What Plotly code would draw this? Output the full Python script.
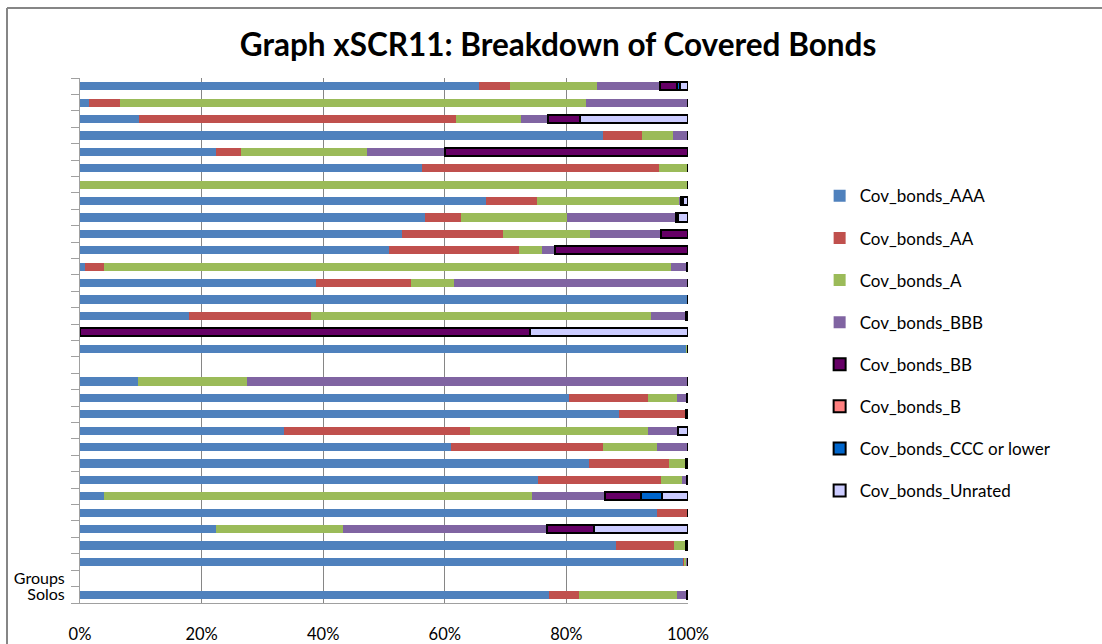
import plotly.graph_objects as go

# Rows listed from top to bottom of the chart
row_ids = [f"r{i:02d}" for i in range(1, 33)]
row_labels = [""] * 30 + ["Groups", "Solos"]

x_tickvals = [0, 20, 40, 60, 80, 100]
x_ticktext = ["0%", "20%", "40%", "60%", "80%", "100%"]

series_names = ["Cov_bonds_AAA", "Cov_bonds_AA", "Cov_bonds_A", "Cov_bonds_BBB",
                "Cov_bonds_BB", "Cov_bonds_B", "Cov_bonds_CCC or lower", "Cov_bonds_Unrated"]

# shares in % (top row first); None = empty row
AAA = [65.6, 1.4, 9.7, 86.1, 22.3, 56.3, 0, 66.7, 56.8, 52.9, 50.8, 0.8, 38.8, 100, 17.9, 0,
       99.7, None, 9.6, 80.5, 88.7, 33.5, 61.0, 83.7, 75.4, 4.0, 94.9, 22.4, 88.1, 99.2, None, 77.1]
AA = [5.2, 5.1, 52.1, 6.4, 4.1, 38.9, 0, 8.5, 5.8, 16.6, 21.4, 3.1, 15.7, 0, 20.1, 0,
      0, None, 0, 12.9, 10.9, 30.6, 25.1, 13.2, 20.2, 0, 5.1, 0, 9.6, 0.2, None, 5.0]
A = [14.3, 76.7, 10.8, 5.1, 20.8, 4.8, 100, 23.3, 17.5, 14.3, 3.8, 93.3, 7.0, 0, 55.9, 0,
     0.3, None, 17.9, 4.8, 0, 29.3, 8.8, 2.7, 3.4, 70.3, 0, 20.8, 1.9, 0.4, None, 16.1]
BBB = [10.3, 16.8, 4.3, 2.4, 12.8, 0, 0, 0.4, 17.9, 11.7, 2.2, 2.6, 38.5, 0, 5.7, 0,
       0, None, 72.5, 1.6, 0, 5.0, 5.1, 0, 0.8, 12.1, 0, 33.6, 0, 0.2, None, 1.7]
BB = [2.8, 0, 5.3, 0, 40.0, 0, 0, 0.2, 0.3, 4.5, 21.8, 0.2, 0, 0, 0.4, 74.0,
      0, None, 0, 0.2, 0.4, 0, 0, 0.4, 0.2, 5.8, 0, 7.7, 0.4, 0, None, 0.1]
B = [0, 0, 0, 0, 0, 0, 0, 0, 0, 0, 0, 0, 0, 0, 0, 0,
     0, None, 0, 0, 0, 0, 0, 0, 0, 0, 0, 0, 0, 0, None, 0]
CCC = [0.5, 0, 0, 0, 0, 0, 0, 0, 0, 0, 0, 0, 0, 0, 0, 0,
       0, None, 0, 0, 0, 0, 0, 0, 0, 3.6, 0, 0, 0, 0, None, 0]
Unrated = [1.3, 0, 17.8, 0, 0, 0, 0, 0.9, 1.7, 0, 0, 0, 0, 0, 0, 26.0,
           0, None, 0, 0, 0, 1.6, 0, 0, 0, 4.2, 0, 15.5, 0, 0, None, 0]

series_values = [AAA, AA, A, BBB, BB, B, CCC, Unrated]
colors = ["#4F81BD", "#C0504D", "#9BBB59", "#8064A2", "#660066", "#FF8080", "#0066CC", "#CCCCFF"]
outlined = [False, False, False, False, True, True, True, True]

fig = go.Figure()
for name, vals, col, ol in zip(series_names, series_values, colors, outlined):
    fig.add_trace(go.Bar(
        y=row_ids, x=vals, orientation="h", name=name, legendgroup=name,
        marker=dict(color=col, line=dict(color="black", width=2 if ol else 0)),
    ))

fig.update_layout(
    width=1102, height=644,
    barmode="stack", bargap=0.5,
    plot_bgcolor="white", paper_bgcolor="white",
    margin=dict(l=80, r=414, t=78, b=41, autoexpand=False),
    font=dict(family="Lato, Calibri, Arial", size=15, color="black"),
    title=dict(text="<b>Graph xSCR11: Breakdown of Covered Bonds</b>",
               x=(558 / 1102), xref="container", xanchor="center",
               y=1 - 45 / 644, yref="container", yanchor="middle",
               font=dict(size=31.5, family="Lato, Calibri, Arial")),
    showlegend=True,
    legend=dict(x=1.2165, xanchor="left", y=0.809, yanchor="top",
                traceorder="grouped", tracegroupgap=17,
                font=dict(size=17), itemwidth=30, bgcolor="rgba(0,0,0,0)"),
    xaxis=dict(range=[0, 100], tickmode="array", tickvals=x_tickvals, ticktext=x_ticktext,
               showgrid=True, gridcolor="#868686", gridwidth=1,
               showline=True, linecolor="#A0A0A0", linewidth=1,
               ticks="", ticklabelstandoff=16, zeroline=False, automargin=False,
               tickfont=dict(size=16.5)),
    yaxis=dict(type="category", categoryorder="array", categoryarray=row_ids,
               autorange="reversed", tickmode="array", tickvals=row_ids, ticktext=row_labels,
               tickson="boundaries", ticks="outside", ticklen=8, tickcolor="#A0A0A0",
               showline=True, linecolor="#A0A0A0", linewidth=1, showgrid=False,
               automargin=False, ticklabelstandoff=11, tickfont=dict(size=16)),
    shapes=[
        dict(type="line", xref="paper", yref="paper", x0=(7-80)/608, x1=(1102-80)/608,
             y0=(603-8)/525, y1=(603-8)/525, line=dict(color="#868686", width=2)),
        dict(type="line", xref="paper", yref="paper", x0=(7-80)/608, x1=(7-80)/608,
             y0=(603-8)/525, y1=(603-650)/525, line=dict(color="#868686", width=2)),
    ],
)

fig.write_html("out.html", config={"displayModeBar": False},
               post_script="document.body.style.margin='0';")
